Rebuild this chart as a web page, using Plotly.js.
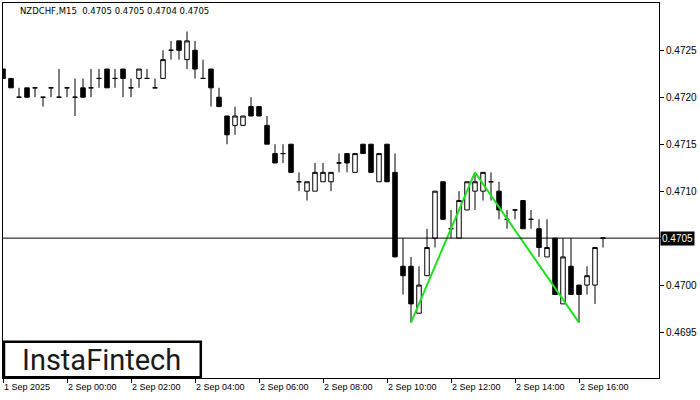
<!DOCTYPE html>
<html>
<head>
<meta charset="utf-8">
<script src="https://cdn.plot.ly/plotly-3.0.1.min.js"></script>
<style>
html,body{margin:0;padding:0;background:#ffffff;}
#chart{width:700px;height:400px;}
</style>
</head>
<body>
<div id="chart"></div>
<script>
// ---- data (NZDCHF, M15) ----
const symbol = "NZDCHF,M15";
const candleIndex = [0,1,2,3,4,5,6,7,8,9,10,11,12,13,14,15,16,17,18,19,20,21,22,23,24,25,26,27,28,29,30,31,32,33,34,35,36,37,38,39,40,41,42,43,44,45,46,47,48,49,50,51,52,53,54,55,56,57,58,59,60,61,62,63,64,65,66,67,68,69,70,71,72,73,74,75];
const openP  = [0.4723,0.4722,0.4720,0.4721,0.4721,0.4720,0.4721,0.4720,0.4721,0.4720,0.4721,0.4721,0.4722,0.4723,0.4722,0.4723,0.4721,0.4722,0.4722,0.4721,0.4722,0.4725,0.4726,0.4724,0.4725,0.4722,0.4723,0.4720,0.4718,0.4717,0.4717,0.4719,0.4719,0.4717,0.4714,0.4714,0.4715,0.4711,0.4710,0.4710,0.4711,0.4711,0.4713,0.4714,0.4712,0.4715,0.4715,0.4711,0.4715,0.4712,0.4702,0.4702,0.4697,0.4701,0.4705,0.4711,0.4706,0.4705,0.4708,0.4710,0.4710,0.4711,0.4710,0.4707,0.4708,0.4709,0.4707,0.4706,0.4703,0.4705,0.4698,0.4702,0.4700,0.4700,0.4700,0.4705];
const highP  = [0.4723,0.4722,0.4721,0.4721,0.4721,0.4720,0.4721,0.4723,0.4721,0.4722,0.4722,0.4723,0.4723,0.4723,0.4723,0.4723,0.4722,0.4723,0.4723,0.4722,0.4725,0.4726,0.4726,0.4727,0.4726,0.4724,0.4723,0.4721,0.4718,0.4719,0.4718,0.4720,0.4719,0.4718,0.4715,0.4715,0.4715,0.4712,0.4711,0.4713,0.4713,0.4712,0.4714,0.4714,0.4714,0.4715,0.4715,0.4714,0.4715,0.4714,0.4705,0.4703,0.4702,0.4706,0.4710,0.4711,0.4708,0.4710,0.4711,0.4712,0.4712,0.4712,0.4711,0.4708,0.4708,0.4709,0.4708,0.4707,0.4707,0.4705,0.4705,0.4705,0.4700,0.4702,0.4704,0.4705];
const lowP   = [0.4722,0.4721,0.4720,0.4720,0.4720,0.4719,0.4720,0.4720,0.4720,0.4718,0.4720,0.4720,0.4721,0.4721,0.4721,0.4720,0.4720,0.4721,0.4722,0.4721,0.4722,0.4724,0.4724,0.4723,0.4722,0.4722,0.4719,0.4719,0.4715,0.4716,0.4717,0.4718,0.4718,0.4715,0.4713,0.4713,0.4712,0.4710,0.4709,0.4710,0.4711,0.4710,0.4712,0.4712,0.4712,0.4714,0.4712,0.4711,0.4711,0.4703,0.4699,0.4696,0.4697,0.4701,0.4704,0.4707,0.4705,0.4705,0.4708,0.4708,0.4709,0.4709,0.4707,0.4706,0.4707,0.4706,0.4706,0.4703,0.4703,0.4699,0.4698,0.4699,0.4696,0.4699,0.4698,0.4704];
const closeP = [0.4722,0.4721,0.4720,0.4720,0.4721,0.4720,0.4721,0.4720,0.4721,0.4720,0.4720,0.4721,0.4722,0.4721,0.4722,0.4722,0.4721,0.4723,0.4722,0.4721,0.4724,0.4725,0.4725,0.4726,0.4723,0.4722,0.4721,0.4719,0.4716,0.4718,0.4718,0.4718,0.4718,0.4715,0.4713,0.4714,0.4712,0.4711,0.4711,0.4712,0.4712,0.4712,0.4713,0.4713,0.4714,0.4714,0.4712,0.4714,0.4711,0.4703,0.4701,0.4698,0.4700,0.4704,0.4710,0.4707,0.4706,0.4709,0.4711,0.4711,0.4712,0.4711,0.4708,0.4707,0.4708,0.4706,0.4707,0.4704,0.4704,0.4699,0.4703,0.4699,0.4699,0.4701,0.4704,0.4705];

// pattern (double bottom) points
const patternX = [51, 59, 72];
const patternY = [0.4696, 0.4712, 0.4696];

// axis ticks
const xTickPos    = [0, 8, 16, 24, 32, 40, 48, 56, 64, 72];
const xTickLabels = ["1 Sep 2025","2 Sep 00:00","2 Sep 02:00","2 Sep 04:00","2 Sep 06:00","2 Sep 08:00","2 Sep 10:00","2 Sep 12:00","2 Sep 14:00","2 Sep 16:00"];
const yTickVals   = [0.4695, 0.4700, 0.4705, 0.4710, 0.4715, 0.4720, 0.4725];

// ---- chart ----
const n = closeP.length;
const lastO = openP[n-1], lastH = highP[n-1], lastL = lowP[n-1], lastC = closeP[n-1];
const headerText = symbol + "  " + [lastO,lastH,lastL,lastC].map(v => v.toFixed(4)).join(" ");
const FONT = "Liberation Sans, Arial, sans-serif";

const traces = [
  {
    type: "candlestick",
    x: candleIndex, open: openP, high: highP, low: lowP, close: closeP,
    increasing: {line: {color: "#000000", width: 1}, fillcolor: "#ffffff"},
    decreasing: {line: {color: "#000000", width: 1}, fillcolor: "#000000"},
    whiskerwidth: 0,
    hoverinfo: "skip",
    showlegend: false
  },
  {
    type: "scatter", mode: "lines",
    x: patternX, y: patternY,
    line: {color: "#1fe01f", width: 2},
    hoverinfo: "skip", showlegend: false
  }
];

const layout = {
  width: 700, height: 400,
  margin: {l: 3, r: 41, t: 3, b: 22, pad: 0},
  paper_bgcolor: "#ffffff", plot_bgcolor: "#ffffff",
  showlegend: false,
  boxgap: 0.25, boxgroupgap: 0.25,
  font: {family: FONT, size: 9, color: "#000000"},
  xaxis: {
    range: [0, 82], fixedrange: true,
    rangeslider: {visible: false},
    showgrid: false, zeroline: false,
    showline: true, linecolor: "#000000", linewidth: 1, mirror: true,
    tickmode: "array", tickvals: xTickPos, ticktext: xTickLabels,
    ticks: "outside", ticklen: 4, tickcolor: "#000000", tickwidth: 1,
    ticklabelposition: "outside right",
    tickfont: {family: FONT, size: 9, color: "#000000"}
  },
  yaxis: {
    range: [0.469011, 0.473003], fixedrange: true,
    side: "right",
    showgrid: false, zeroline: false,
    showline: true, linecolor: "#000000", linewidth: 1, mirror: true,
    tickmode: "array", tickvals: yTickVals,
    ticktext: yTickVals.map(v => Math.abs(v - lastC) < 1e-9 ? "" : v.toFixed(4)),
    ticks: "outside", ticklen: 4, tickcolor: "#000000", tickwidth: 1,
    tickfont: {family: FONT, size: 10, color: "#000000"}
  },
  shapes: [
    {type: "line", xref: "paper", yref: "y", x0: 0, x1: 1, y0: lastC, y1: lastC,
     line: {color: "#000000", width: 1}, layer: "above"},
    {type: "rect", xref: "paper", yref: "paper", x0: 0.0015, x1: 0.3015, y0: 0.002, y1: 0.097,
     line: {color: "#000000", width: 2.5}, fillcolor: "#ffffff", layer: "above"}
  ],
  annotations: [
    {xref: "paper", yref: "paper", x: 0.0229, y: 0.9795, xanchor: "left", yanchor: "middle",
     text: headerText, showarrow: false, font: {family: "DejaVu Sans, Verdana, sans-serif", size: 8.5, color: "#000000"}},
    {xref: "paper", yref: "y", x: 1, y: lastC, xanchor: "left", yanchor: "middle", xshift: 1,
     text: lastC.toFixed(4), showarrow: false, bgcolor: "#000000", borderpad: 1,
     font: {family: FONT, size: 10, color: "#ffffff"}},
    {xref: "paper", yref: "paper", x: 0.1509, y: 0.049, xanchor: "center", yanchor: "middle",
     text: "InstaFintech", showarrow: false,
     font: {family: "Roboto, sans-serif", size: 29, color: "#1a1a1a"}}
  ]
};

Plotly.newPlot("chart", traces, layout, {staticPlot: true, displayModeBar: false});
</script>
</body>
</html>
